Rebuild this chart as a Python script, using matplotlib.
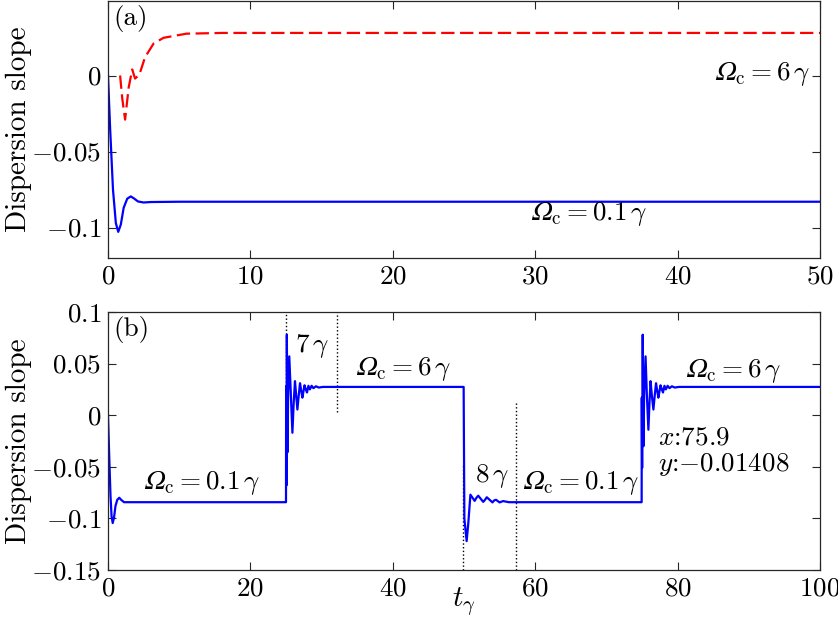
import matplotlib
matplotlib.use("Agg")
import matplotlib.pyplot as plt

plt.rcParams["font.family"] = "serif"
plt.rcParams["font.serif"] = ["cmr10", "DejaVu Serif"]
plt.rcParams["mathtext.fontset"] = "cm"
plt.rcParams["axes.unicode_minus"] = False

# ---- panel (a) ----
a_blue_t = [0, 0.15, 0.35, 0.55, 0.72, 0.9, 1.1, 1.35, 1.6, 1.85, 2.1, 2.5, 3, 5, 50]
a_blue_v = [0, -0.035, -0.075, -0.097, -0.1028, -0.098, -0.087, -0.081, -0.0795,
            -0.081, -0.0828, -0.0835, -0.0832, -0.083, -0.083]
a_red_t = [0.85, 1.0, 1.2, 1.45, 1.7, 1.9, 2.2, 2.6, 3.2, 3.9, 5.5, 8, 50]
a_red_v = [0, -0.015, -0.029, -0.008, 0.004, -0.002, 0.0005, 0.012, 0.021, 0.0248,
           0.0275, 0.028, 0.028]

# ---- panel (b) ----
b_t = [0, 0.15, 0.35, 0.5, 0.66, 0.85, 1.05, 1.3, 1.59, 1.85, 2.25, 3, 24.95,
       25.0, 25.02, 25.06, 25.12, 25.2, 25.3, 25.46, 25.68, 25.9, 26.08, 26.26, 26.44,
       26.6, 26.8, 26.97, 27.13, 27.3, 27.45, 27.6, 27.78, 27.95, 28.15, 28.35, 28.6,
       28.85, 29.2, 29.6, 30.2, 49.85,
       49.95, 50.05, 50.37, 50.6, 50.9, 51.2, 51.5, 51.75, 52.0, 52.35, 52.7, 52.95,
       53.2, 53.6, 54.0, 54.25, 54.5, 55.0, 55.5, 56.3, 74.93,
       74.95, 74.97, 75.02, 75.1, 75.2, 75.3, 75.5, 75.68, 75.9, 76.05, 76.2, 76.4,
       76.6, 76.8, 76.97, 77.13, 77.3, 77.45, 77.6, 77.78, 77.95, 78.15, 78.35, 78.6,
       78.85, 79.2, 79.6, 80.2, 100]
b_v = [0, -0.035, -0.078, -0.098, -0.1045, -0.099, -0.088, -0.082, -0.080, -0.082,
       -0.0843, -0.0843, -0.0843,
       -0.0843, 0.028, -0.068, 0.078, -0.036, 0.02, 0.057, 0.02, -0.017, 0.012, 0.033,
       0.018, 0.0055, 0.02, 0.031, 0.024, 0.017, 0.023, 0.029, 0.025, 0.022, 0.0285,
       0.025, 0.0285, 0.0262, 0.028, 0.0268, 0.0274, 0.0274,
       0.0274, -0.10, -0.122, -0.105, -0.077, -0.080, -0.083, -0.080, -0.078, -0.081,
       -0.084, -0.082, -0.0795, -0.082, -0.0845, -0.0825, -0.082, -0.0845, -0.0832,
       -0.0843, -0.0843,
       -0.0843, 0.017, -0.051, 0.078, -0.03, 0.02, 0.057, 0.02, -0.0141, 0.012, 0.033,
       0.018, 0.0055, 0.02, 0.031, 0.024, 0.017, 0.023, 0.029, 0.025, 0.022, 0.0285,
       0.025, 0.0285, 0.0262, 0.028, 0.0268, 0.0274, 0.0274]

# dotted markers: time, lower end, upper end
mark_t = [25, 32.1, 49.9, 57.3]
mark_lo = [-0.068, 0.003, -0.15, -0.15]
mark_hi = [0.1, 0.1, -0.048, 0.0136]

fs = 19.5
blue = "#0000ff"
red = "#ff0000"
om = "\U0001D6FA"  # italic capital omega

fig = plt.figure(figsize=(8.38, 6.21), dpi=100)
ax1 = fig.add_axes([108 / 838, 1 - 258 / 621, 712 / 838, 257 / 621])
ax2 = fig.add_axes([108 / 838, 1 - 570 / 621, 712 / 838, 258 / 621])


def style(ax):
    ax.tick_params(direction="in", length=6, width=0.8, top=True, right=True,
                   labelsize=fs, pad=5, color="#262626")
    for s in ax.spines.values():
        s.set_linewidth(0.9)
        s.set_color("#262626")


# panel (a)
ax1.plot(a_blue_t, a_blue_v, color=blue, lw=1.6)
ax1.plot(a_red_t, a_red_v, color=red, lw=1.6, dashes=(6, 2.5))
ax1.set_xlim(0, 50)
ax1.set_ylim(-0.12, 0.049)
ax1.set_xticks([0, 10, 20, 30, 40, 50])
ax1.set_xticklabels([r"$0$", r"$10$", r"$20$", r"$30$", r"$40$", r"$50$"])
ax1.set_yticks([-0.1, -0.05, 0])
ax1.set_yticklabels([r"$-0.1$", r"$-0.05$", r"$0$"])
style(ax1)
ax1.set_ylabel("Dispersion slope", fontsize=21)
ax1.yaxis.set_label_coords(-0.107, 0.5)
ax1.text(0.007, 0.985, "(a)", transform=ax1.transAxes, fontsize=fs, va="top")
ax1.text(49.3, 0.001, "$" + om + r"_\mathrm{c}=6\,\gamma$", fontsize=fs,
         ha="right", va="center")
ax1.text(29.6, -0.0913, "$" + om + r"_\mathrm{c}=0.1\,\gamma$", fontsize=fs,
         ha="left", va="center")

# panel (b)
ax2.vlines(mark_t, mark_lo, mark_hi, colors="k", linestyles=":", lw=1)
ax2.plot(b_t, b_v, color=blue, lw=1.6)
ax2.set_xlim(0, 100)
ax2.set_ylim(-0.15, 0.1)
ax2.set_xticks([0, 20, 40, 60, 80, 100])
ax2.set_xticklabels([r"$0$", r"$20$", r"$40$", r"$60$", r"$80$", r"$100$"])
ax2.set_yticks([-0.15, -0.1, -0.05, 0, 0.05, 0.1])
ax2.set_yticklabels([r"$-0.15$", r"$-0.1$", r"$-0.05$", r"$0$", r"$0.05$", r"$0.1$"])
style(ax2)
ax2.set_ylabel("Dispersion slope", fontsize=21)
ax2.yaxis.set_label_coords(-0.107, 0.5)
ax2.set_xlabel(r"$t_\gamma$", fontsize=21)
ax2.xaxis.set_label_coords(0.5, -0.06)
ax2.text(0.007, 0.985, "(b)", transform=ax2.transAxes, fontsize=fs, va="top")
ax2.text(26.3, 0.067, r"$7\,\gamma$", fontsize=fs, ha="left", va="center")
ax2.text(34.7, 0.0444, "$" + om + r"_\mathrm{c}=6\,\gamma$", fontsize=fs,
         ha="left", va="center")
ax2.text(4.96, -0.066, "$" + om + r"_\mathrm{c}=0.1\,\gamma$", fontsize=fs,
         ha="left", va="center")
ax2.text(51.5, -0.059, r"$8\,\gamma$", fontsize=fs, ha="left", va="center")
ax2.text(58.1, -0.0658, "$" + om + r"_\mathrm{c}=0.1\,\gamma$", fontsize=fs,
         ha="left", va="center")
ax2.text(81.0, 0.0428, "$" + om + r"_\mathrm{c}=6\,\gamma$", fontsize=fs,
         ha="left", va="center")
ax2.text(77.3, -0.0214, r"$x$:75.9", fontsize=fs, ha="left", va="center")
ax2.text(77.3, -0.0473, r"$y$:$-$0.01408", fontsize=fs, ha="left", va="center")

fig.savefig("out.png", dpi=100)
